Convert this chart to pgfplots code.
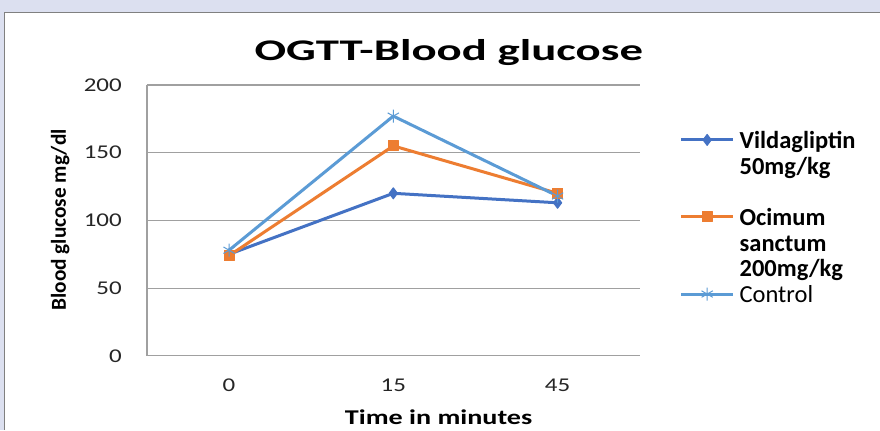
\documentclass[border=0pt]{standalone}
\usepackage{fontspec}
\setmainfont{Carlito}
\usepackage{graphicx}
\usepackage{pgfplots}
\pgfplotsset{compat=1.18}
\definecolor{bgc}{RGB}{220,224,240}
\definecolor{vild}{RGB}{68,114,196}
\definecolor{ocim}{RGB}{237,125,49}
\definecolor{ctrl}{RGB}{91,155,213}
\definecolor{gridc}{RGB}{160,160,160}
\newcommand{\tl}[1]{\scalebox{1.28}[1]{#1}}
\begin{document}
\begin{tikzpicture}
\fill[bgc] (0,0) rectangle (880bp,430bp);
\fill[white] (4bp,0) rectangle (880bp,418bp);
\draw[gray, line width=0.8bp] (4.4bp,0) -- (4.4bp,417.6bp) -- (880bp,417.6bp);
\begin{axis}[
 at={(147bp,74bp)}, anchor=south west,
 scale only axis, width=493bp, height=271bp,
 xmin=0, xmax=3, ymin=0, ymax=200,
 clip=false,
 xtick={0.5,1.5,2.5}, xticklabels={\tl{0},\tl{15},\tl{45}},
 ytick={0,50,100,150,200}, yticklabels={\tl{0},\tl{50},\tl{100},\tl{150},\tl{200}},
 major tick length=0pt,
 ymajorgrids, grid style={gridc, line width=1.2bp},
 axis x line*=bottom, axis y line*=left,
 axis line style={gridc, line width=1.2bp, -},
 tick label style={font=\fontsize{19.5bp}{20bp}\selectfont, text=black!85, inner sep=0pt},
 xticklabel style={anchor=north, yshift=-23bp},
 yticklabel style={anchor=east, xshift=-25bp},
 every axis title shift=0pt,
 title={\scalebox{1.56}[1]{OGTT-Blood glucose}},
 title style={at={(0.6126,1.092)}, anchor=base, font=\fontsize{30bp}{32bp}\selectfont\bfseries},
 xlabel={\scalebox{1.34}[1]{Time in minutes}},
 xlabel style={at={(0.592,-0.2546)}, anchor=base, font=\fontsize{21bp}{22bp}\selectfont\bfseries},
 ylabel={Blood glucose mg/dl},
 ylabel style={at={(-0.1643,0.502)}, anchor=base, font=\fontsize{21.3bp}{22bp}\selectfont\bfseries},
 legend cell align=left,
 legend style={at={(1.0811,0.8445)}, anchor=north west, draw=none, fill=none, inner sep=0pt, outer sep=0pt, row sep=0pt, column sep=5bp,
   nodes={inner sep=0pt, text height=21.4bp, text depth=4.3bp, font=\fontsize{24.5bp}{25bp}\selectfont, anchor=west}},
 legend image code/.code={\draw[mark repeat=2,mark phase=2,#1] plot coordinates {(0bp,0bp) (26bp,0bp) (52bp,0bp)};},
]
\addplot[vild, line width=3bp, line join=round, mark=diamond*, mark size=5.5bp, mark options={solid, fill=vild, line width=1bp}] coordinates {(0.5,75) (1.5,120) (2.5,113)};
\addlegendentry{\textbf{Vildagliptin}}
\addlegendimage{empty legend}\addlegendentry{\textbf{50mg/kg}}
\addlegendimage{empty legend}\addlegendentry{}
\addplot[ocim, line width=3bp, line join=round, mark=square*, mark size=5bp, mark options={solid, fill=ocim, line width=1bp}] coordinates {(0.5,74) (1.5,155) (2.5,120)};
\addlegendentry{\textbf{Ocimum}}
\addlegendimage{empty legend}\addlegendentry{\textbf{sanctum}}
\addlegendimage{empty legend}\addlegendentry{\textbf{200mg/kg}}
\addplot[ctrl, line width=3bp, line join=round, mark=asterisk, mark size=6.5bp, mark options={solid, line width=1bp}] coordinates {(0.5,78) (1.5,177) (2.5,118)};
\addlegendentry{Control}
\end{axis}
\end{tikzpicture}
\end{document}
